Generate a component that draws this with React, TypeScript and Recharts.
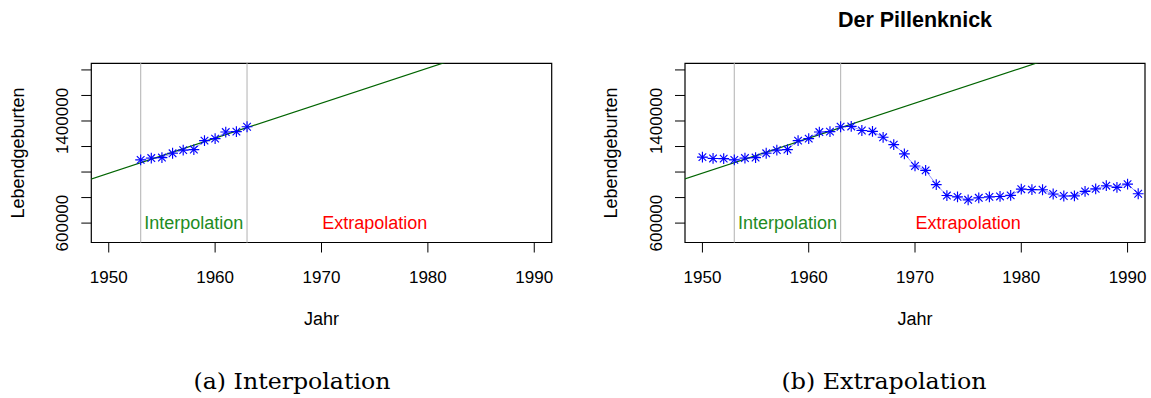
import React from 'react';
import { ComposedChart, XAxis, YAxis, Line, Scatter, ReferenceLine, ReferenceArea } from 'recharts';

// ---- data ----
const years = [
  1950, 1951, 1952, 1953, 1954, 1955, 1956, 1957, 1958, 1959,
  1960, 1961, 1962, 1963, 1964, 1965, 1966, 1967, 1968, 1969,
  1970, 1971, 1972, 1973, 1974, 1975, 1976, 1977, 1978, 1979,
  1980, 1981, 1982, 1983, 1984, 1985, 1986, 1987, 1988, 1989,
  1990, 1991,
];
const births = [
  1116701, 1106380, 1105084, 1095029, 1109743, 1113408, 1147085, 1172000, 1176000, 1246000,
  1261614, 1313505, 1316534, 1354945, 1357304, 1325386, 1318303, 1272276, 1214968, 1142366,
  1047737, 1013396, 901657, 815969, 805500, 782310, 798334, 805496, 808619, 817217,
  865789, 862100, 861275, 827933, 812292, 813803, 848232, 867969, 892993, 880459,
  905675, 830019,
];
const interpolationYears = [1953, 1963];
const trendYears = [1948, 1992];
const trendBirths = [936000, 2144000];
const regionLabels = ['Interpolation', 'Extrapolation'];
const regionLabelYears = [1958, 1975];
const regionLabelBirths = [600000, 600000];
const xTicks = [1950, 1960, 1970, 1980, 1990];
const yTicks = [600000, 800000, 1000000, 1200000, 1400000, 1600000, 1800000];
const yTickLabels = ['600000', '', '', '', '1400000', '', ''];
const xDomain = [1948.36, 1991.64];
const yDomain = [448000, 1852000];

const title = 'Der Pillenknick';
const xTitle = 'Jahr';
const yTitle = 'Lebendgeburten';
const captions = ['(a) Interpolation', '(b) Extrapolation'];

// ---- derived tables ----
const allPoints = years.map((y, i) => ({ year: y, births: births[i] }));
const interpPoints = allPoints.filter(
  (p) => p.year >= interpolationYears[0] && p.year <= interpolationYears[1]
);
const trendPoints = trendYears.map((y, i) => ({ year: y, births: trendBirths[i] }));
const interpLabel = [{ year: regionLabelYears[0], births: regionLabelBirths[0] }];
const extrapLabel = [{ year: regionLabelYears[1], births: regionLabelBirths[1] }];

const SANS = '"Liberation Sans", Arial, Helvetica, sans-serif';
const SERIF = '"DejaVu Serif", "Liberation Serif", serif';
const FS_TICK = 17;
const FS = 18;

const Star = (props: any) => {
  const { cx, cy } = props;
  if (cx == null || cy == null) return null;
  const a = 5.4;
  const b = 3.8;
  return (
    <g stroke="#0000ff" strokeWidth={1.15}>
      <line x1={cx - a} y1={cy} x2={cx + a} y2={cy} />
      <line x1={cx} y1={cy - a} x2={cx} y2={cy + a} />
      <line x1={cx - b} y1={cy - b} x2={cx + b} y2={cy + b} />
      <line x1={cx - b} y1={cy + b} x2={cx + b} y2={cy - b} />
    </g>
  );
};

const makeLabel = (text: string, color: string) => (props: any) => {
  const { cx, cy } = props;
  if (cx == null || cy == null) return null;
  return (
    <text x={cx} y={cy + 6} textAnchor="middle" fill={color} fontFamily={SANS} fontSize={FS}>
      {text}
    </text>
  );
};
const InterpLabel = makeLabel(regionLabels[0], '#228B22');
const ExtrapLabel = makeLabel(regionLabels[1], '#FF0000');

const XTick = (props: any) => {
  const { x, y, payload } = props;
  return (
    <text x={x} y={y + 30} textAnchor="middle" fill="#000" fontFamily={SANS} fontSize={FS_TICK}>
      {String(payload.value)}
    </text>
  );
};

const YTick = (props: any) => {
  const { x, y, payload } = props;
  const idx = yTicks.indexOf(payload.value);
  const label = idx >= 0 ? yTickLabels[idx] : '';
  if (!label) return null;
  const bx = x - 13;
  return (
    <text
      x={bx}
      y={y}
      transform={`rotate(-90, ${bx}, ${y})`}
      textAnchor="middle"
      fill="#000"
      fontFamily={SANS}
      fontSize={FS_TICK}
    >
      {label}
    </text>
  );
};

function Panel({ width, marginLeft, marginRight, points }: any) {
  return (
    <ComposedChart
      width={width}
      height={398}
      margin={{ top: 63.3, right: marginRight, bottom: 115.5, left: marginLeft }}
    >
      <XAxis
        type="number"
        dataKey="year"
        domain={xDomain}
        ticks={xTicks}
        interval={0}
        allowDataOverflow
        height={40}
        tickSize={10}
        tickMargin={0}
        axisLine={false}
        tickLine={{ stroke: '#000', strokeWidth: 1 }}
        tick={XTick}
      />
      <YAxis
        type="number"
        dataKey="births"
        domain={yDomain}
        ticks={yTicks}
        interval={0}
        allowDataOverflow
        width={91}
        tickSize={10}
        tickMargin={0}
        axisLine={false}
        tickLine={{ stroke: '#000', strokeWidth: 1 }}
        tick={YTick}
      />
      {interpolationYears.map((yr) => (
        <ReferenceLine key={yr} x={yr} stroke="#BEBEBE" strokeWidth={1.2} />
      ))}
      <Line
        data={points}
        dataKey="births"
        stroke="#6a6aff"
        strokeOpacity={0.7}
        strokeWidth={1}
        dot={false}
        activeDot={false}
        isAnimationActive={false}
      />
      <Scatter data={points} dataKey="births" shape={Star} isAnimationActive={false} />
      <Line
        data={trendPoints}
        dataKey="births"
        stroke="#006400"
        strokeWidth={1.2}
        dot={false}
        activeDot={false}
        isAnimationActive={false}
      />
      <Scatter data={interpLabel} dataKey="births" shape={InterpLabel} isAnimationActive={false} />
      <Scatter data={extrapLabel} dataKey="births" shape={ExtrapLabel} isAnimationActive={false} />
      <ReferenceArea
        x1={xDomain[0]}
        x2={xDomain[1]}
        y1={yDomain[0]}
        y2={yDomain[1]}
        fill="none"
        fillOpacity={0}
        stroke="#000"
        strokeWidth={1.2}
        ifOverflow="visible"
      />
    </ComposedChart>
  );
}

export default function App() {
  return (
    <div style={{ position: 'absolute', left: 0, top: 0, width: 1151, height: 398, background: '#fff' }}>
      <div style={{ position: 'absolute', left: 0, top: 0 }}>
        <Panel width={575} marginLeft={0.3} marginRight={23.3} points={interpPoints} />
      </div>
      <div style={{ position: 'absolute', left: 594, top: 0 }}>
        <Panel width={557} marginLeft={0} marginRight={6} points={allPoints} />
      </div>
      <svg
        width={1151}
        height={398}
        style={{ position: 'absolute', left: 0, top: 0, pointerEvents: 'none' }}
      >
        <text x={915} y={26.5} textAnchor="middle" fontFamily={SANS} fontWeight="bold" fontSize={21.5} fill="#000">
          {title}
        </text>
        <text x={321.5} y={325} textAnchor="middle" fontFamily={SANS} fontSize={FS} fill="#000">
          {xTitle}
        </text>
        <text x={915} y={325} textAnchor="middle" fontFamily={SANS} fontSize={FS} fill="#000">
          {xTitle}
        </text>
        <text
          x={23.5}
          y={153}
          transform="rotate(-90, 23.5, 153)"
          textAnchor="middle"
          fontFamily={SANS}
          fontSize={FS}
          fill="#000"
        >
          {yTitle}
        </text>
        <text
          x={617.2}
          y={153}
          transform="rotate(-90, 617.2, 153)"
          textAnchor="middle"
          fontFamily={SANS}
          fontSize={FS}
          fill="#000"
        >
          {yTitle}
        </text>
        <text
          x={292}
          y={389}
          textAnchor="middle"
          fontFamily={SERIF}
          fontSize={22}
          textLength={197}
          lengthAdjust="spacingAndGlyphs"
          fill="#000"
        >
          {captions[0]}
        </text>
        <text
          x={884}
          y={389}
          textAnchor="middle"
          fontFamily={SERIF}
          fontSize={22}
          textLength={205}
          lengthAdjust="spacingAndGlyphs"
          fill="#000"
        >
          {captions[1]}
        </text>
      </svg>
    </div>
  );
}
